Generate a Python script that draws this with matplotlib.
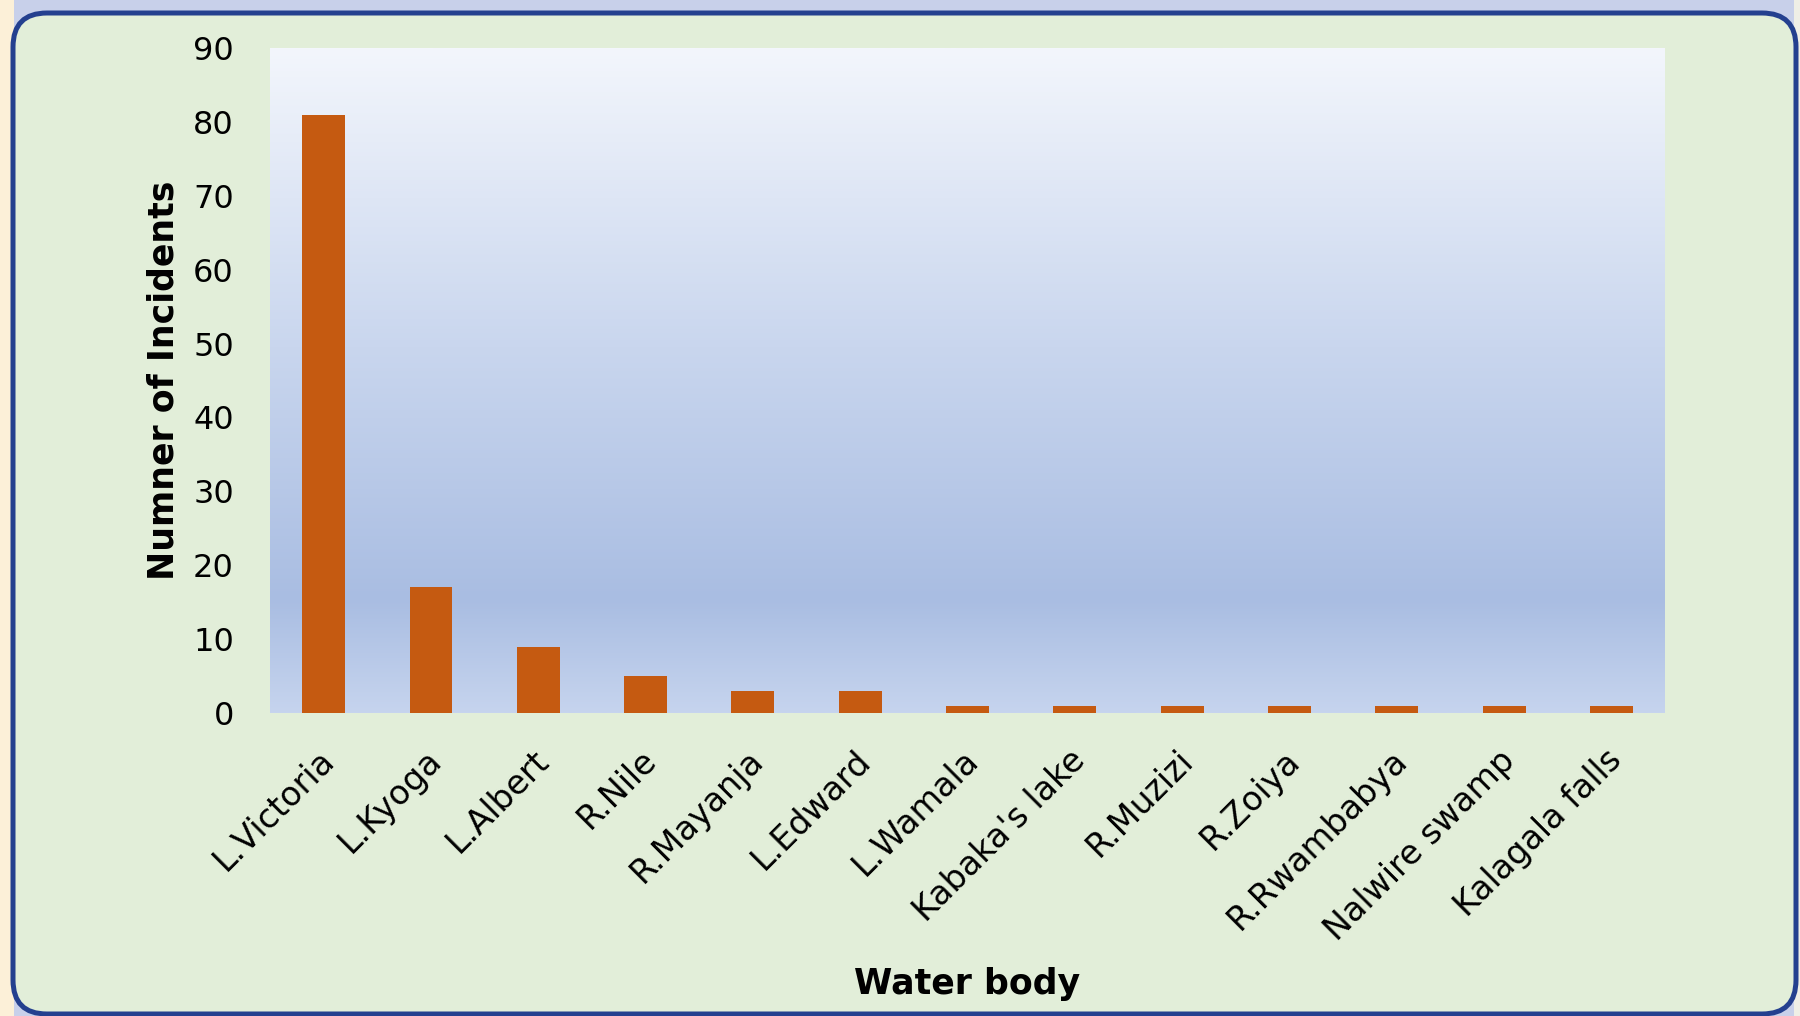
import matplotlib
matplotlib.use('Agg')
import matplotlib.pyplot as plt
import matplotlib.transforms as mtransforms
import numpy as np
from matplotlib.colors import LinearSegmentedColormap
from matplotlib.patches import FancyBboxPatch, Rectangle

# data
water_bodies = ['L.Victoria', 'L.Kyoga', 'L.Albert', 'R.Nile', 'R.Mayanja', 'L.Edward',
                'L.Wamala', "Kabaka's lake", 'R.Muzizi', 'R.Zoiya', 'R.Rwambabya',
                'Nalwire swamp', 'Kalagala falls']
incidents = [81, 17, 9, 5, 3, 3, 1, 1, 1, 1, 1, 1, 1]
y_ticks = [0, 10, 20, 30, 40, 50, 60, 70, 80, 90]

W, H = 1800, 1016
fig = plt.figure(figsize=(W / 100, H / 100), dpi=100)
fig.patch.set_facecolor('#c8d0ea')

# background layer in pixel coordinates
bg = fig.add_axes([0, 0, 1, 1], zorder=0)
bg.set_xlim(0, W)
bg.set_ylim(H, 0)
bg.axis('off')
bg.add_patch(Rectangle((0, 0), 14, H, facecolor='#fcf0d8', edgecolor='none'))
bg.add_patch(Rectangle((W - 6, 0), 6, H, facecolor='#efefe6', edgecolor='none'))
bg.add_patch(FancyBboxPatch((13, 13), W - 4 - 13, 1014 - 13,
                            boxstyle='round,pad=0,rounding_size=34',
                            facecolor='#e2eed9', edgecolor='#24408f', linewidth=3.6))

# plot area
left, right, top, bottom = 270, 1665, 48, 713
ax = fig.add_axes([left / W, 1 - bottom / H, (right - left) / W, (bottom - top) / H], zorder=1)

x = np.arange(len(water_bodies))
grad = LinearSegmentedColormap.from_list(
    'plotbg', [(0.0, '#c6d4ee'), (0.17, '#a9bde2'), (0.55, '#c9d6ee'), (1.0, '#f3f6fc')])
ax.imshow(np.linspace(0, 1, 256).reshape(-1, 1), cmap=grad, origin='lower',
          extent=[-0.5, len(x) - 0.5, 0, 90], aspect='auto', zorder=0)

ax.bar(x, incidents, width=0.4, color='#c55a11', zorder=2)

ax.set_xlim(-0.5, len(x) - 0.5)
ax.set_ylim(0, 90)
ax.set_yticks(y_ticks)
ax.set_xticks(x)
ax.set_xticklabels(water_bodies, rotation=45, ha='right', rotation_mode='anchor')
ax.tick_params(axis='y', length=0, pad=26, labelsize=23)
ax.tick_params(axis='x', length=0, pad=22, labelsize=24)
shift = mtransforms.ScaledTranslation(-6 / 100, 0, fig.dpi_scale_trans)
for lbl in ax.get_xticklabels():
    lbl.set_transform(lbl.get_transform() + shift)
for s in ax.spines.values():
    s.set_visible(False)

ax.set_ylabel('Numner of Incidents', fontsize=25, fontweight='bold', va='center')
ax.yaxis.set_label_coords(-0.076, 0.5)
ax.set_xlabel('Water body', fontsize=25, fontweight='bold', va='center')
ax.xaxis.set_label_coords(0.5, -0.408)

fig.savefig('out.png', dpi=100, facecolor=fig.get_facecolor())
